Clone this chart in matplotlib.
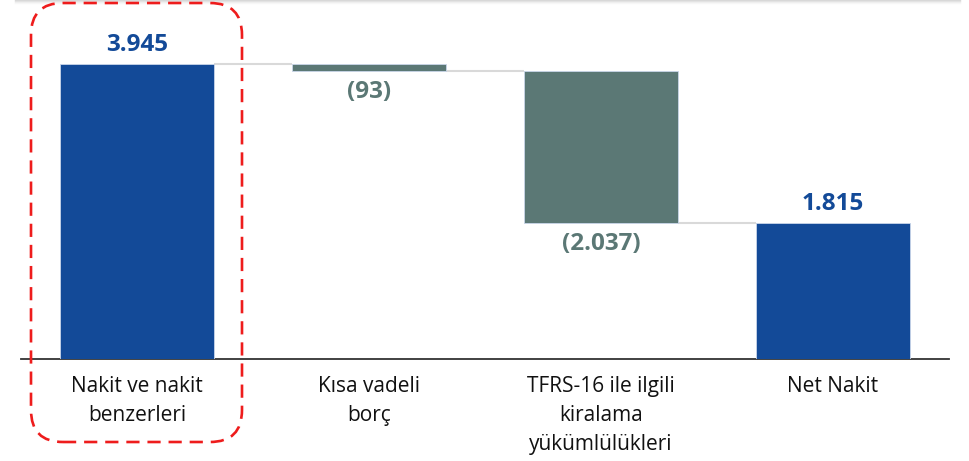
import numpy as np
import matplotlib
matplotlib.use("Agg")
import matplotlib.pyplot as plt
from matplotlib.patches import FancyBboxPatch
from matplotlib.transforms import IdentityTransform

plt.rcParams['font.family'] = ['Open Sans', 'DejaVu Sans']

# data
categories = ["Nakit ve nakit\nbenzerleri", "Kısa vadeli\nborç",
              "TFRS-16 ile ilgili\nkiralama\nyükümlülükleri", "Net Nakit"]
values = [3945, -93, -2037, 1815]
labels = ["3.945", "(93)", "(2.037)", "1.815"]
is_total = [True, False, False, True]

blue = "#134a98"
teal = "#5b7875"

fig = plt.figure(figsize=(9.69, 4.61), dpi=100)
W, H = 969, 461
ax = fig.add_axes([21 / W, (H - 359) / H, 928 / W, 359 / H])

x = np.arange(len(values))
width = 0.664
bottoms, heights = [], []
running = 0
for v, tot in zip(values, is_total):
    if tot:
        bottoms.append(0)
        heights.append(v)
        running = v
    else:
        bottoms.append(running + v)
        heights.append(-v)
        running = running + v

colors = [blue if t else teal for t in is_total]
ax.bar(x, heights, width, bottom=bottoms, color=colors, zorder=3,
       edgecolor="#c9d6ea", linewidth=0.6)

# connector lines
levels = []
running = 0
for v, tot in zip(values, is_total):
    running = v if tot else running + v
    levels.append(running)
for i in range(len(values) - 1):
    ax.plot([x[i] + width / 2, x[i + 1] - width / 2], [levels[i], levels[i]],
            color="#d9d9d9", lw=1.5, zorder=2, solid_capstyle="butt")

# value labels
for i, (v, tot) in enumerate(zip(values, is_total)):
    top = bottoms[i] + heights[i]
    if v >= 0:
        ax.annotate(labels[i], (x[i], top), xytext=(0, 5), textcoords="offset points",
                    ha="center", va="bottom", fontsize=17.5, fontweight="bold", color=blue)
    else:
        ax.annotate(labels[i], (x[i], bottoms[i]), xytext=(0, -6.5), textcoords="offset points",
                    ha="center", va="top", fontsize=17.5, fontweight="bold", color=teal)

ax.set_xlim(-0.5, 3.5)
ax.set_ylim(0, 3945 * 359 / 295)
ax.set_xticks(x)
ax.set_xticklabels(categories, fontsize=15, color="#111111", linespacing=1.5)
ax.tick_params(axis="x", length=0, pad=12)
ax.set_yticks([])
for s in ["top", "left", "right"]:
    ax.spines[s].set_visible(False)
ax.spines["bottom"].set_color("#333333")
ax.spines["bottom"].set_linewidth(1.3)
ax.patch.set_alpha(0)

# dashed highlight box (pixel coordinates)
box = FancyBboxPatch((31, H - 442), 211, 439,
                     boxstyle="round,pad=0,rounding_size=32",
                     transform=IdentityTransform(), fill=False,
                     edgecolor="#ee1c1c", linewidth=1.9, linestyle=(0, (5, 3)),
                     zorder=5)
fig.patches.append(box)

# faint shadow strip at top
for k, a in enumerate([0.35, 0.2, 0.1, 0.05]):
    fig.add_artist(plt.Line2D([15 / W, 960 / W], [(H - 0.5 - k) / H] * 2,
                              color="#9a9a9a", alpha=a, lw=1, transform=fig.transFigure))

fig.savefig("out.png", dpi=100)
